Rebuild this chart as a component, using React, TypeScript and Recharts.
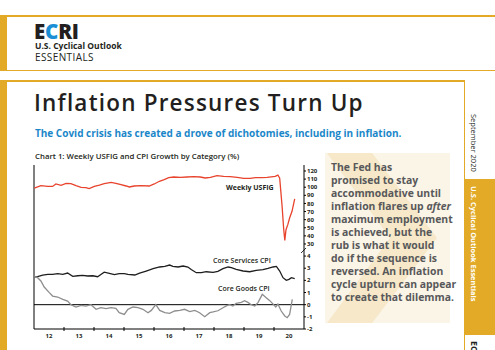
import React from "react";
import { LineChart, Line, XAxis, YAxis, ReferenceLine } from "recharts";

// dates are fractional years
const usfigDates = [2012.01, 2012.23, 2012.46, 2012.62, 2012.73, 2012.9, 2013.07, 2013.23, 2013.4, 2013.57, 2013.73, 2013.84, 2014.01, 2014.18, 2014.34, 2014.57, 2014.73, 2014.9, 2015.07, 2015.18, 2015.34, 2015.57, 2015.84, 2016.01, 2016.18, 2016.34, 2016.49, 2016.66, 2016.88, 2017.1, 2017.32, 2017.54, 2017.71, 2017.88, 2018.1, 2018.32, 2018.54, 2018.77, 2018.99, 2019.21, 2019.38, 2019.6, 2019.77, 2020.04, 2020.13, 2020.19, 2020.27, 2020.32, 2020.36, 2020.4, 2020.46, 2020.52, 2020.6, 2020.66, 2020.69];
const usfigValues = [99, 101.9, 101.1, 101, 104, 102.3, 104.8, 104.4, 101.9, 99.9, 99.5, 98.2, 101.1, 102.7, 104.4, 106, 104.8, 103.1, 101.5, 100.3, 101.5, 101.9, 101.5, 104, 107.3, 109.3, 111.8, 112.6, 112.2, 112.6, 113, 112.6, 111.4, 112.2, 114.2, 113.4, 113, 112.2, 111, 111, 111.8, 111.8, 112.2, 113.4, 115, 111, 76.5, 49.7, 34.5, 47.6, 53.8, 62, 70.3, 80.5, 85.5];

const servicesDates = [2012.0, 2012.12, 2012.29, 2012.46, 2012.62, 2012.79, 2012.96, 2013.12, 2013.29, 2013.46, 2013.62, 2013.79, 2013.96, 2014.12, 2014.23, 2014.34, 2014.51, 2014.68, 2014.84, 2015.01, 2015.13, 2015.36, 2015.52, 2015.74, 2015.97, 2016.19, 2016.36, 2016.52, 2016.63, 2016.8, 2016.97, 2017.13, 2017.24, 2017.41, 2017.58, 2017.74, 2017.97, 2018.13, 2018.3, 2018.47, 2018.58, 2018.74, 2018.97, 2019.19, 2019.41, 2019.63, 2019.8, 2019.97, 2020.08, 2020.19, 2020.3, 2020.41, 2020.5, 2020.58, 2020.69];
const servicesValues = [2.27, 2.3, 2.44, 2.49, 2.49, 2.55, 2.49, 2.6, 2.33, 2.38, 2.41, 2.36, 2.38, 2.3, 2.49, 2.68, 2.58, 2.47, 2.55, 2.55, 2.49, 2.44, 2.6, 2.77, 2.96, 3.1, 3.15, 3.26, 3.15, 3.1, 3.18, 3.1, 2.9, 2.63, 2.63, 2.71, 2.65, 2.74, 2.96, 3.1, 3.04, 2.9, 2.77, 2.71, 2.82, 2.88, 2.98, 3.1, 3.15, 2.77, 2.22, 2.0, 2.08, 2.22, 2.14];

const goodsDates = [2012.0, 2012.12, 2012.23, 2012.34, 2012.51, 2012.62, 2012.79, 2012.96, 2013.12, 2013.23, 2013.4, 2013.57, 2013.73, 2013.9, 2014.07, 2014.23, 2014.4, 2014.57, 2014.73, 2014.84, 2015.01, 2015.13, 2015.3, 2015.47, 2015.63, 2015.8, 2015.91, 2016.06, 2016.19, 2016.36, 2016.52, 2016.69, 2016.86, 2017.02, 2017.19, 2017.36, 2017.52, 2017.69, 2017.86, 2017.97, 2018.13, 2018.3, 2018.41, 2018.52, 2018.63, 2018.74, 2018.91, 2019.02, 2019.13, 2019.24, 2019.36, 2019.47, 2019.61, 2019.74, 2019.86, 2019.97, 2020.06, 2020.13, 2020.24, 2020.36, 2020.44, 2020.52, 2020.61];
const goodsValues = [2.3, 2.22, 1.95, 1.45, 0.99, 0.71, 0.63, 0.44, 0.3, 0, -0.19, -0.05, -0.11, 0, -0.38, -0.25, -0.33, -0.25, -0.3, -0.66, -0.8, -0.38, -0.19, -0.25, -0.38, -0.66, -0.47, 0, -0.47, -0.66, -0.71, -0.52, -0.47, -0.38, -0.57, -0.47, -0.66, -0.99, -0.66, -0.6, -0.5, -0.25, -0.1, 0, -0.1, 0.11, 0.19, 0.33, 0.19, 0, -0.1, 0.19, 0.85, 0.58, 0.33, 0.05, -0.19, 0.05, -0.52, -0.93, -1.07, -0.8, 0.44];

const usfigTicks = [30, 40, 50, 60, 70, 80, 90, 100, 110, 120];
const cpiTicks = [-2, -1, 0, 1, 2, 3, 4];
const yearMarks = [2013, 2014, 2015, 2016, 2017, 2018, 2019, 2020, 2021];

const calloutLines = [
  "The Fed has",
  "promised to stay",
  "accommodative until",
  "inflation flares up |after",
  "maximum employment",
  "is achieved, but the",
  "rub is what it would",
  "do if the sequence is",
  "reversed. An inflation",
  "cycle upturn can appear",
  "to create that dilemma.",
];

const zip = (ts: number[], vs: number[]) => ts.map((t, i) => ({ t, v: vs[i] }));
const usfigData = zip(usfigDates, usfigValues);
const servicesData = zip(servicesDates, servicesValues);
const goodsData = zip(goodsDates, goodsValues);

const GOLD = "#e2aa26";
const INK = "#231f20";
const FONT = "'Open Sans', sans-serif";
const tickStyle = { fontSize: 6, fontWeight: 700, fill: INK, fontFamily: FONT };

const YearTick = (props: any) => {
  const { x, y, payload } = props;
  const yr = payload.value as number;
  return (
    <g>
      {yr < 2021 && <line x1={x} x2={x} y1={y - 2} y2={y + 2} stroke="#000" strokeWidth={1} />}
      <text x={x - 15} y={y + 9} textAnchor="middle" {...tickStyle}>
        {String(yr - 1).slice(2)}
      </text>
    </g>
  );
};

const abs = (s: React.CSSProperties): React.CSSProperties => ({ position: "absolute", ...s });

export default function App() {
  return (
    <div style={abs({ left: 0, top: 0, width: 495, height: 350, overflow: "hidden", background: "#fff", fontFamily: FONT, color: INK })}>
      {/* header */}
      <div style={abs({ left: 0, top: 15, width: 7, height: 56, background: GOLD })} />
      <div style={abs({ left: 7, top: 15, width: 488, height: 1.5, background: GOLD })} />
      <div style={abs({ left: 7, top: 69.5, width: 488, height: 1.5, background: GOLD })} />
      <div style={abs({ left: 34, top: 23, fontSize: 20.5, fontWeight: 800, lineHeight: "16px", letterSpacing: -0.2 })}>
        E<span style={{ color: "#1a8fd6" }}>C</span>RI
      </div>
      <div style={abs({ left: 35, top: 41, fontSize: 8.5, fontWeight: 700, lineHeight: "9px", whiteSpace: "nowrap" })}>U.S. Cyclical Outlook</div>
      <div style={abs({ left: 35, top: 51, fontSize: 10, fontWeight: 400, lineHeight: "12px", letterSpacing: 0.4, whiteSpace: "nowrap" })}>ESSENTIALS</div>

      {/* main frame */}
      <div style={abs({ left: 0, top: 80, width: 7, height: 270, background: GOLD })} />
      <div style={abs({ left: 7, top: 80, width: 458, height: 1.5, background: GOLD })} />
      <div style={abs({ left: 463.5, top: 80, width: 1.5, height: 270, background: GOLD })} />
      <div style={abs({ left: 464, top: 179, width: 31, height: 156, background: GOLD })} />
      <div style={abs({ left: 469, top: 114, fontSize: 7.5, lineHeight: "10px", writingMode: "vertical-rl", whiteSpace: "nowrap" })}>September 2020</div>
      <div style={abs({ left: 469, top: 186, fontSize: 7.5, fontWeight: 700, lineHeight: "10px", color: "#fff", writingMode: "vertical-rl", whiteSpace: "nowrap" })}>U.S. Cyclical Outlook Essentials</div>
      <div style={abs({ left: 469, top: 341, fontSize: 9, fontWeight: 700, lineHeight: "10px", writingMode: "vertical-rl", whiteSpace: "nowrap" })}>ECRI</div>

      <div style={abs({ left: 34, top: 89, fontSize: 22.5, fontWeight: 600, lineHeight: "28px", letterSpacing: 1.2, whiteSpace: "nowrap" })}>Inflation Pressures Turn Up</div>
      <div style={abs({ left: 35, top: 126, fontSize: 10, fontWeight: 700, lineHeight: "14px", color: "#1b87c9", whiteSpace: "nowrap" })}>
        The Covid crisis has created a drove of dichotomies, including in inflation.
      </div>
      <div style={abs({ left: 35, top: 151, fontSize: 7.8, fontWeight: 600, lineHeight: "10px", whiteSpace: "nowrap" })}>
        Chart 1: Weekly USFIG and CPI Growth by Category (%)
      </div>

      {/* callout */}
      <svg style={abs({ left: 325, top: 153 })} width={125} height={170}>
        <rect x={0} y={0} width={125} height={170} fill="#fbf5e7" />
        <polygon points="2,0 47,0 112,85 47,170 2,170 65,85" fill="#f6e8c8" />
      </svg>
      <div style={abs({ left: 331, top: 161, fontSize: 10.4, fontWeight: 700, lineHeight: "13px", color: "#58585a", whiteSpace: "nowrap" })}>
        {calloutLines.map((l) => {
          const [a, b] = l.split("|");
          return (
            <div key={l}>
              {a}
              {b && <i>{b}</i>}
            </div>
          );
        })}
      </div>

      {/* chart */}
      <div style={abs({ left: 30, top: 161 })}>
        <LineChart width={296} height={88} data={usfigData} margin={{ top: 4, left: 4, right: 0, bottom: 0 }}>
          <XAxis dataKey="t" type="number" domain={[2012, 2021]} orientation="top" height={0} tick={false} tickLine={false} stroke="#000" allowDataOverflow />
          <YAxis orientation="right" domain={[23.8, 127.4]} ticks={usfigTicks} width={22} tickSize={2} tickMargin={1} tick={tickStyle} stroke="#000" interval={0} allowDataOverflow />
          <ReferenceLine x={2012} stroke="#000" />
          <Line dataKey="v" stroke="#e8432d" strokeWidth={1.3} dot={false} isAnimationActive={false} />
        </LineChart>
      </div>
      <div style={abs({ left: 30, top: 249 })}>
        <LineChart width={296} height={96} margin={{ top: 0, left: 4, right: 0, bottom: 0 }}>
          <XAxis dataKey="t" type="number" domain={[2012, 2021]} ticks={yearMarks} interval={0} height={16} tickSize={0} tickMargin={0} tickLine={false} tick={<YearTick />} stroke="#000" allowDataOverflow />
          <YAxis orientation="right" domain={[-2, 4.58]} ticks={cpiTicks} width={22} tickSize={2} tickMargin={1} tick={tickStyle} stroke="#000" interval={0} allowDataOverflow />
          <ReferenceLine x={2012} stroke="#000" />
          <ReferenceLine y={0} stroke="#000" />
          <Line data={servicesData} dataKey="v" stroke="#1e1e1e" strokeWidth={1.3} dot={false} isAnimationActive={false} />
          <Line data={goodsData} dataKey="v" stroke="#8e8e8e" strokeWidth={1.3} dot={false} isAnimationActive={false} />
        </LineChart>
      </div>
      <svg style={abs({ left: 298, top: 244 })} width={12} height={12}>
        <line x1={3} y1={9} x2={8} y2={4} stroke="#000" strokeWidth={0.8} />
      </svg>
      <div style={abs({ left: 226, top: 183, fontSize: 7, fontWeight: 700, lineHeight: "9px", whiteSpace: "nowrap" })}>Weekly USFIG</div>
      <div style={abs({ left: 213, top: 256, fontSize: 7, fontWeight: 600, lineHeight: "9px", whiteSpace: "nowrap" })}>Core Services CPI</div>
      <div style={abs({ left: 218, top: 284, fontSize: 7, fontWeight: 600, lineHeight: "9px", whiteSpace: "nowrap" })}>Core Goods CPI</div>
    </div>
  );
}
